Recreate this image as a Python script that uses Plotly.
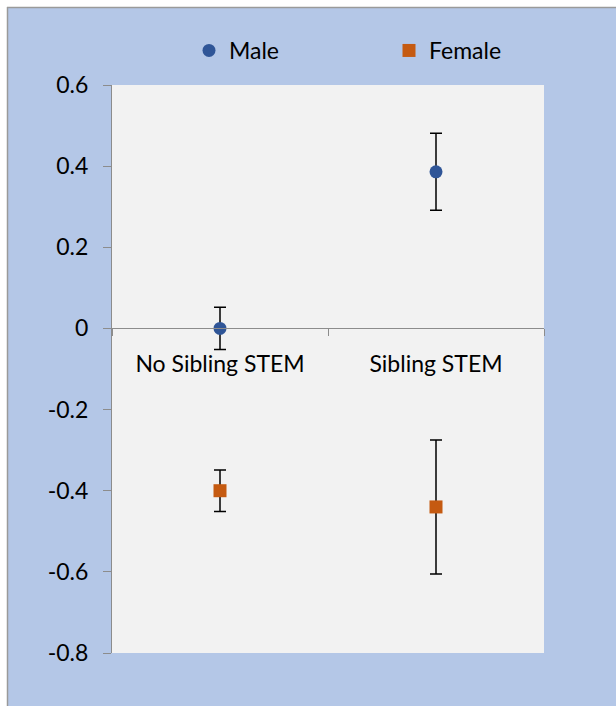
import plotly.graph_objects as go

# Category labels, point estimates and symmetric error margins
categories = ["No Sibling STEM", "Sibling STEM"]
male_values = [0.0, 0.386]
male_errors = [0.052, 0.095]
female_values = [-0.400, -0.440]
female_errors = [0.051, 0.165]

y_tick_values = [0.6, 0.4, 0.2, 0, -0.2, -0.4, -0.6, -0.8]
y_tick_labels = ["0.6", "0.4", "0.2", "0", "-0.2", "-0.4", "-0.6", "-0.8"]

W, H = 616, 706
ML, MT, PW, PH = 112, 85, 432, 568
FONT = "Lato, Open Sans, sans-serif"
FS = 23
AXIS_GREY = "#8c8c8c"


def px_x(px):
    return (px - ML) / PW


def px_y(py):
    return (MT + PH - py) / PH


fig = go.Figure()

fig.add_trace(go.Scatter(
    x=categories, y=male_values, name="Male", mode="markers",
    marker=dict(symbol="circle", size=13, color="#2F5597"),
    error_y=dict(type="data", array=male_errors, visible=True,
                 color="black", thickness=1.5, width=6),
))
fig.add_trace(go.Scatter(
    x=categories, y=female_values, name="Female", mode="markers",
    marker=dict(symbol="square", size=13, color="#C55A11"),
    error_y=dict(type="data", array=female_errors, visible=True,
                 color="black", thickness=1.5, width=6),
))

# White page margin above and left of the chart panel, with a grey frame edge
for x0, x1, y0, y1 in [(-5, W + 5, -5, 7), (-5, 7, -5, H + 5)]:
    fig.add_shape(type="rect", xref="paper", yref="paper", layer="above",
                  x0=px_x(x0), x1=px_x(x1), y0=px_y(y1), y1=px_y(y0),
                  fillcolor="white", line=dict(width=0))
fig.add_shape(type="line", xref="paper", yref="paper", layer="above",
              x0=px_x(7), x1=px_x(W + 5), y0=px_y(7.5), y1=px_y(7.5),
              line=dict(color="#9a9a9a", width=1.5))
fig.add_shape(type="line", xref="paper", yref="paper", layer="above",
              x0=px_x(7.5), x1=px_x(7.5), y0=px_y(7), y1=px_y(H + 5),
              line=dict(color="#9a9a9a", width=1.5))

fig.update_layout(
    width=W, height=H,
    margin=dict(l=ML, r=W - ML - PW, t=MT, b=H - MT - PH, autoexpand=False),
    paper_bgcolor="#B4C7E7",
    plot_bgcolor="#F2F2F2",
    font=dict(family=FONT, size=FS, color="black"),
    showlegend=True,
    legend=dict(
        orientation="h", xref="container", yref="container",
        x=189 / W, y=1 - 29 / H, xanchor="left", yanchor="top",
        bgcolor="rgba(0,0,0,0)", font=dict(size=FS),
        entrywidth=155, entrywidthmode="pixels",
    ),
    xaxis=dict(
        type="category", anchor="free", position=0.8 / 1.4,
        range=[-0.5, 1.5],
        showline=True, linecolor=AXIS_GREY, linewidth=1,
        ticks="outside", tickson="boundaries", ticklen=7,
        tickcolor=AXIS_GREY, showgrid=False, zeroline=False,
        ticklabelstandoff=15,
        tickfont=dict(size=FS),
    ),
    yaxis=dict(
        range=[-0.8, 0.6], tickvals=y_tick_values, ticktext=y_tick_labels,
        showline=True, linecolor=AXIS_GREY, linewidth=1,
        ticks="outside", ticklen=8, tickcolor=AXIS_GREY,
        showgrid=False, zeroline=False, ticklabelstandoff=10,
        tickfont=dict(size=FS),
    ),
)

fig.write_html("out.html")
